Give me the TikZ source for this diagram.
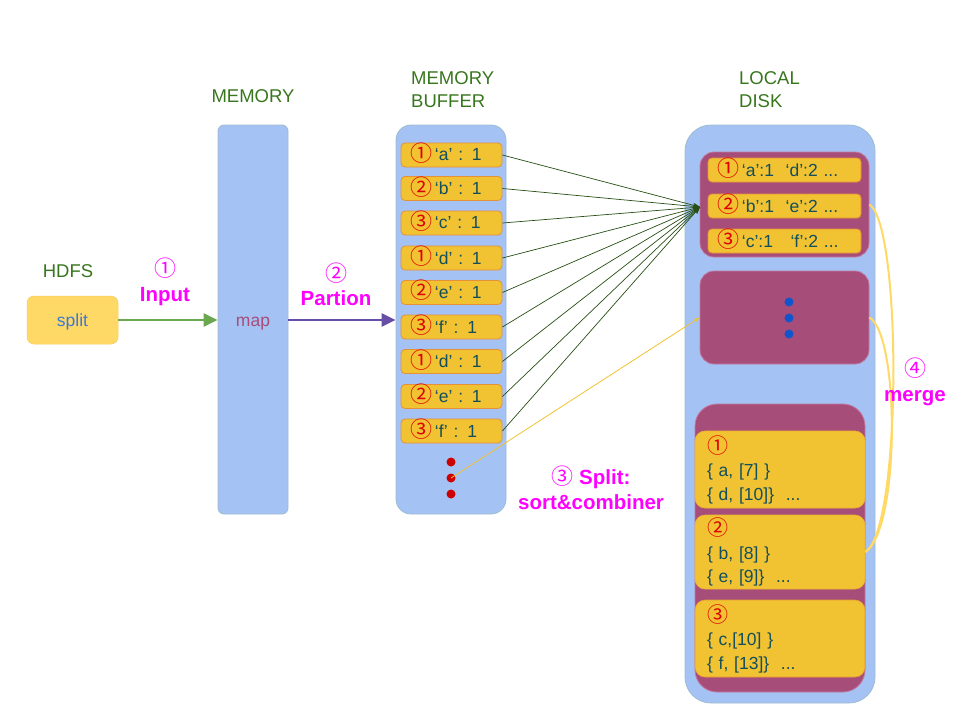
\documentclass[tikz,border=0pt]{standalone}
\usepackage{fontspec}
\setmainfont{Liberation Sans}
\newfontfamily\cjk{Noto Sans CJK SC}
\usetikzlibrary{arrows.meta}
\definecolor{colblue}{HTML}{A4C2F4}
\definecolor{colborder}{HTML}{9DBBD0}
\definecolor{itemyel}{HTML}{F1C232}
\definecolor{itemorg}{HTML}{E69138}
\definecolor{itemtxt}{HTML}{134F5C}
\definecolor{numred}{HTML}{E00000}
\definecolor{hgreen}{HTML}{38761D}
\definecolor{mag}{HTML}{FF00FF}
\definecolor{spillpur}{HTML}{A64D79}
\definecolor{spillbrd}{HTML}{C27BA0}
\definecolor{splitfill}{HTML}{FFD966}
\definecolor{splittxt}{HTML}{3C78D8}
\definecolor{arrgreen}{HTML}{6AA84F}
\definecolor{arrpurple}{HTML}{674EA7}
\definecolor{lngreen}{HTML}{274E13}
\definecolor{dotblue}{HTML}{1155CC}
\definecolor{dotred}{HTML}{CC0000}
\definecolor{mergeyel}{HTML}{FFD966}
\newcommand{\cn}[1]{{\color{numred}\cjk\fontsize{22}{20}\selectfont\raisebox{-0.5pt}[0pt][0pt]{#1}}}
\newcommand{\cnb}[1]{{\color{numred}\cjk\fontsize{21}{23.5}\selectfont #1}}
\newcommand{\cm}[1]{{\cjk\mdseries\fontsize{22}{24}\selectfont #1}}
\begin{document}
\begin{tikzpicture}[x=1pt,y=-1pt,
  lbl/.style={text=hgreen, font=\fontsize{18.5}{23}\selectfont, align=left, inner sep=0pt},
  steplbl/.style={text=mag, font=\fontsize{20.5}{24.5}\selectfont\bfseries, align=center, inner sep=0pt},
  col/.style={fill=colblue, draw=colborder, line width=0.8pt, inner sep=0pt},
  itembox/.style={draw=itemorg, fill=itemyel, line width=0.8pt, rounded corners=4pt,
     text width=83pt, inner xsep=9pt, inner ysep=0pt, minimum height=24pt, align=left,
     font=\fontsize{17.5}{20}\selectfont, text=itemtxt},
  sitem/.style={itembox, text width=135pt},
  spill/.style={fill=spillpur, draw=spillbrd, line width=0.8pt, inner sep=0pt, rounded corners=14pt},
  bigitem/.style={fill=itemyel, draw=itemyel!70!itemorg, line width=0.6pt, rounded corners=10pt,
     text width=146pt, inner xsep=12pt, inner ysep=0pt, align=left,
     font=\fontsize{17.5}{23.5}\selectfont, text=itemtxt},
  gline/.style={draw=lngreen, line width=0.7pt, -{Stealth[length=7pt,width=5pt]}},
  mline/.style={draw=mergeyel, line width=2pt},
  dot/.style={circle, inner sep=0pt, minimum size=9pt}
]
\useasboundingbox (0,0) rectangle (960,720);

% labels
\node[lbl] (hdfs) at (68,271) {HDFS};
\node[lbl] (memlbl) at (253,96) {MEMORY};
\node[lbl, anchor=west] (buflbl) at (411,89.5) {MEMORY\\BUFFER};
\node[lbl, anchor=west] (disklbl) at (739,89.5) {LOCAL\\DISK};

% split
\node[fill=splitfill, draw=splitfill!80!itemorg, line width=0.5pt, rounded corners=7pt,
      minimum width=91pt, minimum height=48pt, inner sep=0pt, text=splittxt,
      font=\fontsize{17.5}{20}\selectfont] (split) at (72.5,320) {\raisebox{-6pt}[0pt][0pt]{split}};

% map column
\node[col, rounded corners=6pt, minimum width=70pt, minimum height=389pt, text=spillpur,
      font=\fontsize{17.5}{20}\selectfont] (map) at (253,319.5) {\raisebox{-6.5pt}[0pt][0pt]{map}};

% buffer column
\node[col, rounded corners=15pt, minimum width=110pt, minimum height=389pt] (buf) at (451,319.5) {};

% disk column
\node[col, rounded corners=26pt, minimum width=190pt, minimum height=578pt] (disk) at (780,414) {};

% buffer items
\node[itembox] (b1) at (451.5,155) {\cn{①}\,‘a’ : 1};
\node[itembox] (b2) at (451.5,188.5) {\cn{②}\,‘b’ : 1};
\node[itembox] (b3) at (451.5,223) {\cn{③}\,‘c’ : 1};
\node[itembox] (b4) at (451.5,258) {\cn{①}\,‘d’ : 1};
\node[itembox] (b5) at (451.5,292.5) {\cn{②}\,‘e’ : 1};
\node[itembox] (b6) at (451.5,327) {\cn{③}\,‘f’ : 1};
\node[itembox] (b7) at (451.5,361.5) {\cn{①}\,‘d’ : 1};
\node[itembox] (b8) at (451.5,396.5) {\cn{②}\,‘e’ : 1};
\node[itembox] (b9) at (451.5,431) {\cn{③}\,‘f’ : 1};

\node[dot, fill=dotred] (d1) at (451,462) {};
\node[dot, fill=dotred] (d2) at (451,478) {};
\node[dot, fill=dotred] (d3) at (451,494) {};

% spills
\node[spill, minimum width=169pt, minimum height=105pt] (sp1) at (784.5,204.5) {};
\node[spill, minimum width=169pt, minimum height=93pt] (sp2) at (784.5,317.5) {};
\node[spill, rounded corners=22pt, minimum width=170pt, minimum height=288pt] (sp3) at (780,548) {};

\node[sitem] (s1) at (784.5,170) {\cn{①}\,‘a’:1\ \ ‘d’:2 ...};
\node[sitem] (s2) at (784.5,206) {\cn{②}\,‘b’:1\ \ ‘e’:2 ...};
\node[sitem] (s3) at (784.5,241) {\cn{③}\,‘c’:1\ \ \ ‘f’:2 ...};

\node[dot, fill=dotblue] (u1) at (789,302) {};
\node[dot, fill=dotblue] (u2) at (789,318) {};
\node[dot, fill=dotblue] (u3) at (789,334) {};

\node[bigitem, minimum height=77pt] (sb1) at (780,469.5) {\cnb{①}\\\{ a, [7] \}\\\{ d, [10]\}\ \ ...};
\node[bigitem, minimum height=74pt] (sb2) at (780,552) {\cnb{②}\\\{ b, [8] \}\\\{ e, [9]\}\ \ ...};
\node[bigitem, minimum height=77pt, draw=itemorg!80!itemyel] (sb3) at (780,638.5) {\cnb{③}\\\{ c,[10] \}\\\{ f, [13]\}\ \ ...};

% arrows
\draw[draw=arrgreen, line width=2.5pt, -{Triangle[length=14pt,width=13pt]}] (split.east) -- (split.east -| map.west);
\draw[draw=arrpurple, line width=2.5pt, -{Triangle[length=14pt,width=13pt]}] (map.east |- split.east) -- (split.east -| buf.west);

\coordinate (conv) at (700,207);
\foreach \i in {1,...,9} { \draw[gline] (b\i.east) -- (conv); }

\draw[draw=itemyel, line width=0.8pt, -{Stealth[length=6pt,width=4pt]}] (d2.center) -- (sp2.west);

\draw[mline] (sp1.east) .. controls (902,225) and (902,530) .. (sb2.east);
\draw[mline] (sp2.east) .. controls (900,335) and (900,530) .. (sb2.east);

\node[steplbl] (st1) at (165,282) {\cm{①}\\Input};
\node[steplbl] (st2) at (336,284.5) {\cm{②}\\Partion};
\node[steplbl] (st3) at (591,488) {\cm{③} Split:\\sort\&combiner};
\node[steplbl] (st4) at (915,382) {\cm{④}\\merge};
\end{tikzpicture}
\end{document}
